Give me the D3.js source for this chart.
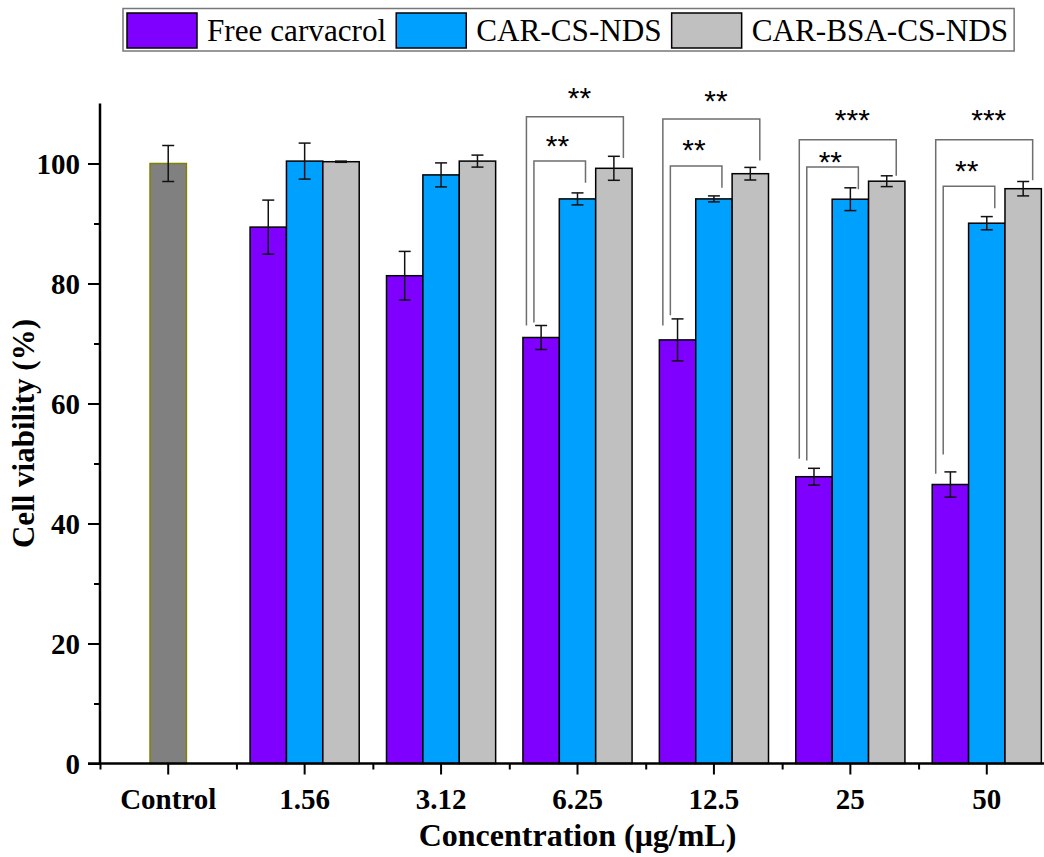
<!DOCTYPE html>
<html>
<head>
<meta charset="utf-8">
<script src="https://cdn.jsdelivr.net/npm/d3@7"></script>
<style>
  html, body { margin: 0; padding: 0; background: #fff; }
  svg { display: block; }
</style>
</head>
<body>
<svg id="chart" width="1044" height="857"></svg>
<script>
// Categories along the x axis
const categories = ['Control', '1.56', '3.12', '6.25', '12.5', '25', '50'];
const concentrations = ['1.56', '3.12', '6.25', '12.5', '25', '50'];
const seriesNames = ['Free carvacrol', 'CAR-CS-NDS', 'CAR-BSA-CS-NDS'];
const seriesColors = ['#7f00ff', '#00a0ff', '#c0c0c0'];

// Cell viability (%) means and standard deviations
const controlMean = 100.0;
const controlSd = 3.0;
const freeMean = [89.4, 81.3, 71.0, 70.6, 47.8, 46.5];
const freeSd = [4.5, 4.05, 2.0, 3.5, 1.4, 2.1];
const csMean = [100.4, 98.1, 94.1, 94.1, 94.05, 90.05];
const csSd = [3.0, 2.0, 1.0, 0.5, 1.9, 1.1];
const bsaMean = [100.3, 100.4, 99.2, 98.3, 97.05, 95.8];
const bsaSd = [0.1, 1.0, 2.0, 1.05, 0.9, 1.2];

const yTicks = [0, 20, 40, 60, 80, 100];
const yMinorTicks = [10, 30, 50, 70, 90];

// Significance brackets (values on the y scale)
const sigGroups = ['6.25', '12.5', '25', '50'];
const outerLabels = ['**', '**', '***', '***'];
const outerTop = [107.8, 107.4, 103.95, 103.95];
const outerLeftEnd = [73.0, 73.0, 50.8, 48.3];
const outerRightEnd = [100.9, 100.5, 97.95, 97.2];
const outerStar = [111.9, 111.5, 108.2, 108.2];
const innerLabels = ['**', '**', '**', '**'];
const innerTop = [100.4, 99.6, 99.4, 96.2];
const innerLeftEnd = [73.5, 74.7, 50.5, 51.5];
const innerRightEnd = [96.8, 95.95, 95.7, 92.55];
const innerStar = [104.0, 103.2, 101.3, 99.8];

const svg = d3.select('#chart');
const serif = "'Liberation Serif', 'Times New Roman', serif";
const sans = "'Liberation Sans', Arial, sans-serif";

const x0 = 100, x1 = 1055;
const yBottom = 763.5, yTop = 103.5;

const x = d3.scaleBand().domain(categories).range([x0, x1]).paddingInner(0).paddingOuter(0);
const y = d3.scaleLinear().domain([0, 110]).range([yBottom, yTop]);
const groupWidth = x.bandwidth() * 0.8;
const xs = d3.scaleBand().domain(seriesNames).range([-groupWidth / 2, groupWidth / 2]).padding(0);
const barW = xs.bandwidth();

const seriesData = [
  { name: seriesNames[0], mean: freeMean, sd: freeSd },
  { name: seriesNames[1], mean: csMean, sd: csSd },
  { name: seriesNames[2], mean: bsaMean, sd: bsaSd }
];

const bars = [];
seriesData.forEach((s, si) => {
  concentrations.forEach((c, i) => {
    bars.push({ cat: c, series: s.name, color: seriesColors[si], mean: s.mean[i], sd: s.sd[i],
      x: x(c) + x.bandwidth() / 2 + xs(s.name) });
  });
});

// Control bar
const ctrlX = x('Control') + x.bandwidth() / 2 - barW / 2;
svg.append('rect')
  .attr('x', ctrlX).attr('y', y(controlMean))
  .attr('width', barW).attr('height', y(0) - y(controlMean))
  .attr('fill', '#808080').attr('stroke', '#808000').attr('stroke-width', 1.5);

// Treatment bars
svg.append('g').selectAll('rect').data(bars).join('rect')
  .attr('x', d => d.x).attr('y', d => y(d.mean))
  .attr('width', barW).attr('height', d => y(0) - y(d.mean))
  .attr('fill', d => d.color).attr('stroke', '#000').attr('stroke-width', 1.5);

// Error bars
const errs = bars.map(d => ({ cx: d.x + barW / 2, mean: d.mean, sd: d.sd }));
errs.push({ cx: ctrlX + barW / 2, mean: controlMean, sd: controlSd });
const eg = svg.append('g').attr('stroke', '#111').attr('stroke-width', 1.5);
errs.forEach(d => {
  eg.append('line').attr('x1', d.cx).attr('x2', d.cx).attr('y1', y(d.mean + d.sd)).attr('y2', y(d.mean - d.sd));
  eg.append('line').attr('x1', d.cx - 6).attr('x2', d.cx + 6).attr('y1', y(d.mean + d.sd)).attr('y2', y(d.mean + d.sd));
  eg.append('line').attr('x1', d.cx - 6).attr('x2', d.cx + 6).attr('y1', y(d.mean - d.sd)).attr('y2', y(d.mean - d.sd));
});

// Significance brackets
const bg = svg.append('g').attr('fill', 'none').attr('stroke', '#6e6e6e').attr('stroke-width', 1.5);
sigGroups.forEach((g, i) => {
  const c = x(g) + x.bandwidth() / 2;
  const purpleLeft = c + xs(seriesNames[0]);
  const blueMid = c + xs(seriesNames[1]) + barW / 2;
  const grayMid = c + xs(seriesNames[2]) + barW / 2;
  const oL = purpleLeft + 3.5, iL = purpleLeft + 11, iR = blueMid + 8, oR = grayMid + 9.5;
  bg.append('path').attr('d', `M${oL},${y(outerLeftEnd[i])}V${y(outerTop[i])}H${oR}V${y(outerRightEnd[i])}`);
  bg.append('path').attr('d', `M${iL},${y(innerLeftEnd[i])}V${y(innerTop[i])}H${iR}V${y(innerRightEnd[i])}`);
  svg.append('text').attr('x', c + 2).attr('y', y(outerStar[i]) + 16)
    .attr('text-anchor', 'middle').attr('font-family', sans).attr('font-size', 30)
    .text(outerLabels[i]);
  svg.append('text').attr('x', c - 20).attr('y', y(innerStar[i]) + 16)
    .attr('text-anchor', 'middle').attr('font-family', sans).attr('font-size', 30)
    .text(innerLabels[i]);
});

// Y axis
const yAxis = svg.append('g').attr('transform', `translate(${x0},0)`)
  .call(d3.axisLeft(y).tickValues(yTicks).tickSize(12).tickPadding(8));
svg.append('g').attr('transform', `translate(${x0},0)`)
  .call(d3.axisLeft(y).tickValues(yMinorTicks).tickSize(6).tickFormat(''))
  .call(g => g.select('.domain').remove());
yAxis.select('.domain').attr('d', `M0,${yTop}V${yBottom}`);

// X axis
const xAxis = svg.append('g').attr('transform', `translate(0,${yBottom})`)
  .call(d3.axisBottom(x).tickSize(11).tickPadding(14));
svg.append('g').attr('transform', `translate(0,${yBottom})`)
  .call(d3.axisBottom(d3.scaleLinear().domain([0, categories.length]).range([x0, x1]))
    .tickValues(d3.range(categories.length + 1)).tickSize(6).tickFormat(''))
  .call(g => g.select('.domain').remove());
xAxis.select('.domain').attr('d', `M${x0 - 12},0H${x1}`);

svg.selectAll('.domain').attr('stroke', '#000').attr('stroke-width', 2.5);
svg.selectAll('.tick line').attr('stroke', '#000').attr('stroke-width', 2);
svg.selectAll('.tick text')
  .attr('font-family', serif).attr('font-weight', 'bold').attr('font-size', 29).attr('fill', '#000');
yAxis.selectAll('.tick text').attr('dy', '0.34em');

// Axis titles
svg.append('text')
  .attr('x', (x0 + x1) / 2).attr('y', 846)
  .attr('text-anchor', 'middle').attr('font-family', serif).attr('font-weight', 'bold')
  .attr('font-size', 32).text('Concentration (μg/mL)');
svg.append('text')
  .attr('transform', `translate(34,${(yTop + yBottom) / 2}) rotate(-90)`)
  .attr('text-anchor', 'middle').attr('font-family', serif).attr('font-weight', 'bold')
  .attr('font-size', 31).text('Cell viability (%)');

// Legend
const legend = svg.append('g');
const legBox = legend.append('rect')
  .attr('x', 123).attr('y', 8.5).attr('height', 42.5)
  .attr('fill', '#fff').attr('stroke', '#777').attr('stroke-width', 1.5);
let lx = 127;
seriesNames.forEach((name, i) => {
  legend.append('rect').attr('x', lx).attr('y', 13).attr('width', 70).attr('height', 35)
    .attr('fill', seriesColors[i]).attr('stroke', '#000').attr('stroke-width', 1.5);
  lx += 80;
  const t = legend.append('text').attr('x', lx).attr('y', 41)
    .attr('font-family', serif).attr('font-size', 31.2).attr('fill', '#000').text(name);
  lx += t.node().getComputedTextLength() + 10;
});
legBox.attr('width', lx - 123 - 4);
</script>
</body>
</html>
